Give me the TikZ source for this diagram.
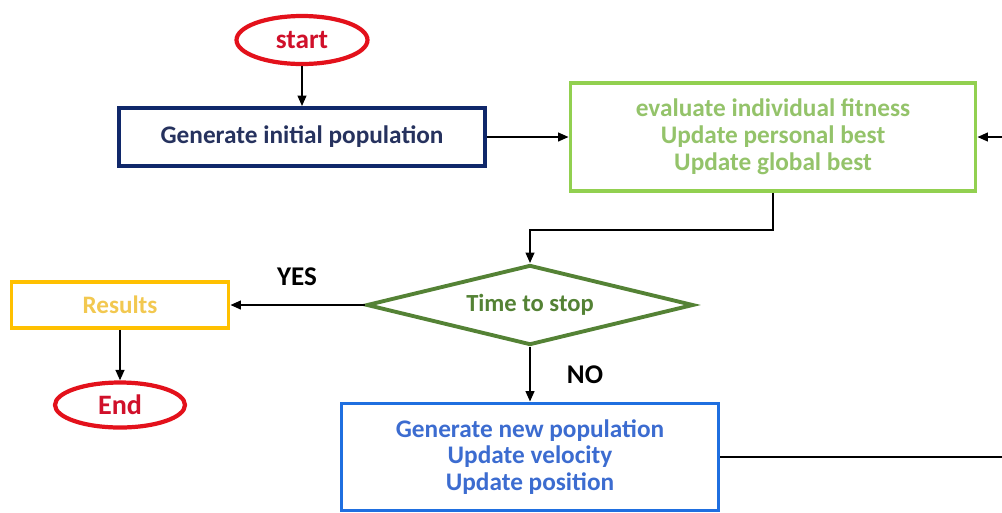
\documentclass[tikz,border=0pt]{standalone}
\usepackage{fontspec}
\setmainfont{Carlito}
\usetikzlibrary{shapes.geometric,arrows.meta}
\definecolor{cred}{HTML}{E3111B}
\definecolor{ctred}{HTML}{D0102A}
\definecolor{cnavy}{HTML}{10286A}
\definecolor{ctnavy}{HTML}{26325E}
\definecolor{cgreen}{HTML}{92D050}
\definecolor{ctgreen}{HTML}{94C36A}
\definecolor{cdgreen}{HTML}{548235}
\definecolor{cyellow}{HTML}{FFC000}
\definecolor{ctyellow}{HTML}{F2C850}
\definecolor{cblue}{HTML}{1F6FE0}
\definecolor{ctblue}{HTML}{3C6CD0}
\tikzset{
  x=0.02cm, y=-0.02cm,
  term/.style={ellipse, draw=cred, line width=2.4pt, text=ctred, font=\bfseries\fontsize{15.5}{17}\selectfont, inner sep=0pt},
  box/.style={draw, line width=2.2pt, inner sep=0pt, align=center, font=\bfseries\fontsize{14.4}{15.3}\selectfont},
  dec/.style={diamond, aspect=4.1, draw=cdgreen, line width=2.2pt, text=cdgreen, inner sep=0pt, font=\bfseries\fontsize{14}{16}\selectfont},
  conn/.style={draw=black, line width=1.1pt, -{Triangle[length=6pt,width=5pt]}},
  lbl/.style={font=\bfseries\fontsize{15.4}{17}\selectfont, text=black}
}
\begin{document}
\begin{tikzpicture}
\useasboundingbox (0,0) rectangle (1002,512);
\node[term, minimum width=131*0.02cm, minimum height=48*0.02cm] (start) at (302,40) {start};
\node[box, draw=cnavy, text=ctnavy, minimum width=366*0.02cm, minimum height=58*0.02cm] (init) at (302,137) {Generate initial population};
\node[box, draw=cgreen, text=ctgreen, minimum width=405*0.02cm, minimum height=108*0.02cm] (eval) at (773,137) {evaluate individual fitness\\Update personal best\\Update global best};
\node[dec, minimum width=327*0.02cm, minimum height=80*0.02cm] (stop) at (530,305) {Time to stop};
\node[box, draw=cyellow, text=ctyellow, font=\bfseries\fontsize{14.3}{16}\selectfont, minimum width=217*0.02cm, minimum height=46*0.02cm] (res) at (120,305) {Results};
\node[term, font=\bfseries\fontsize{16}{18}\selectfont, minimum width=130*0.02cm, minimum height=45*0.02cm] (end) at (120,405) {End};
\node[box, draw=cblue, text=ctblue, minimum width=377*0.02cm, minimum height=107*0.02cm] (new) at (530,457) {Generate new population\\Update velocity\\Update position};
\node[lbl] (yes) at (297,277) {YES};
\node[lbl] (no) at (585,375) {NO};
\coordinate (c1) at (773,230);
\coordinate (c2) at (530,230);
\coordinate (r1) at (1012,457);
\coordinate (r2) at (1012,137);
\draw[conn] (start.south) -- (init.north);
\draw[conn] (init.east) -- (eval.west);
\draw[conn] (eval.south) -- (c1) -- (c2) -- (stop.north);
\draw[conn] (stop.west) -- (res.east);
\draw[conn] (res.south) -- (end.north);
\draw[conn] (stop.south) -- (new.north);
\draw[conn] (new.east) -- (r1) -- (r2) -- (eval.east);
\end{tikzpicture}
\end{document}
